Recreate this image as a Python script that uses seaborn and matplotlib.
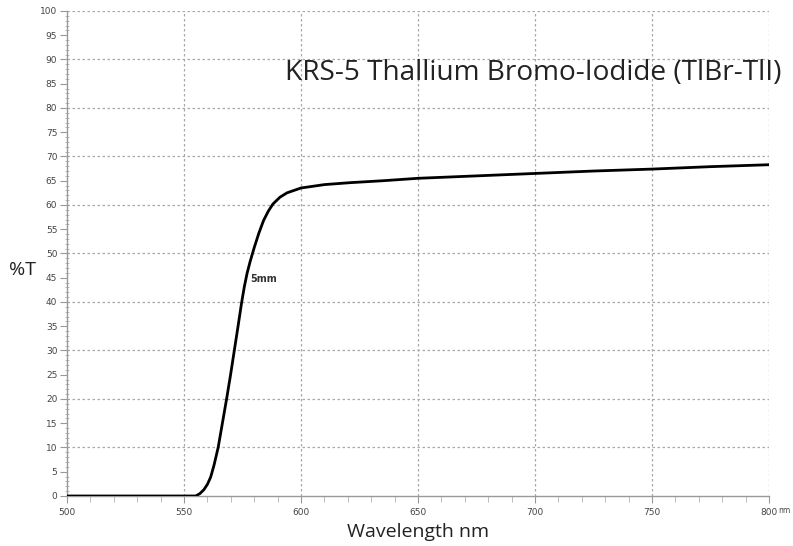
import matplotlib
matplotlib.use("Agg")
import matplotlib.pyplot as plt
import seaborn as sns
import pandas as pd
from matplotlib.ticker import MultipleLocator

wavelength = [500, 520, 540, 555, 556.8, 558.5, 560, 561.4, 562.8, 564.6, 566.4, 568.2, 569.9, 571.5, 573.1,
              574.6, 575.8, 577, 578.3, 580, 582, 584, 586, 588, 591, 594, 600, 610, 621, 635,
              650, 675, 700, 725, 750, 775, 800]
transmission = [0, 0, 0, 0, 0.5, 1.3, 2.4, 3.9, 6.3, 10, 15, 20, 25, 30, 35,
                39.8, 43.2, 46.0, 48.4, 51.2, 54.2, 56.8, 58.7, 60.2, 61.6, 62.5, 63.5, 64.2, 64.6, 65.0,
                65.5, 66.0, 66.5, 67.0, 67.4, 67.9, 68.3]
df = pd.DataFrame({"wavelength": wavelength, "T": transmission})

x_ticks = [500, 550, 600, 650, 700, 750, 800]
x_tick_labels = ["500", "550", "600", "650", "700", "750", "800"]
y_ticks = list(range(0, 101, 5))
y_tick_labels = [str(v) for v in y_ticks]

title_text = "KRS-5 Thallium Bromo-Iodide (TlBr-TlI)"
curve_label = "5mm"

sns.set_style("white")
plt.rcParams["font.family"] = ["DejaVu Sans"]

fig = plt.figure(figsize=(7.93, 5.46), dpi=100)
ax = fig.add_axes([0.0845, 0.0916, 0.8852, 0.8883])

sns.lineplot(data=df, x="wavelength", y="T", ax=ax, color="black", linewidth=2.0, zorder=3)

ax.set_xlim(500, 800)
ax.set_ylim(0, 100)
ax.set_xticks(x_ticks)
ax.set_xticklabels(x_tick_labels)
ax.set_yticks(y_ticks)
ax.set_yticklabels(y_tick_labels)
ax.xaxis.set_minor_locator(MultipleLocator(10))
ax.yaxis.set_minor_locator(MultipleLocator(1))

for v in range(10, 101, 10):
    ax.axhline(v, color="#a8a8a8", linestyle=(0, (2, 2)), linewidth=0.9, zorder=1)
for v in range(550, 801, 50):
    ax.axvline(v, color="#a8a8a8", linestyle=(0, (2, 2)), linewidth=0.9, zorder=1)

for s in ["top", "right"]:
    ax.spines[s].set_visible(False)
for s in ["left", "bottom"]:
    ax.spines[s].set_color("#999999")
    ax.spines[s].set_linewidth(1.0)

ax.tick_params(axis="both", which="both", bottom=True, left=True)
ax.tick_params(axis="both", which="major", labelsize=6.5, labelcolor="#444444", color="#999999",
               length=5, width=0.8, direction="out", pad=2)
ax.tick_params(axis="y", which="minor", color="#b0b0b0", length=3, width=0.6, direction="inout")
ax.tick_params(axis="x", which="minor", color="#b0b0b0", length=4, width=0.6, direction="out")
ax.tick_params(axis="x", which="major", pad=4)

ax.text(804.0, -2.0, "nm", fontsize=5.5, color="#444444", ha="left", va="top", clip_on=False)

ax.set_xlabel("Wavelength nm", fontsize=14, family="Open Sans", color="#222222", labelpad=4)
ax.set_ylabel("%T", fontsize=14, family="Open Sans", color="#222222", rotation=0, labelpad=12, va="center")
ax.yaxis.set_label_coords(-0.063, 0.465)

ax.text(805.5, 87.3, title_text, fontsize=20.2, family="Open Sans", color="#222222", ha="right", va="center",
        clip_on=False)
ax.text(578.5, 44.8, curve_label, fontsize=7, fontweight="bold", color="#333333", ha="left", va="center")

fig.savefig("out.png", dpi=100)
